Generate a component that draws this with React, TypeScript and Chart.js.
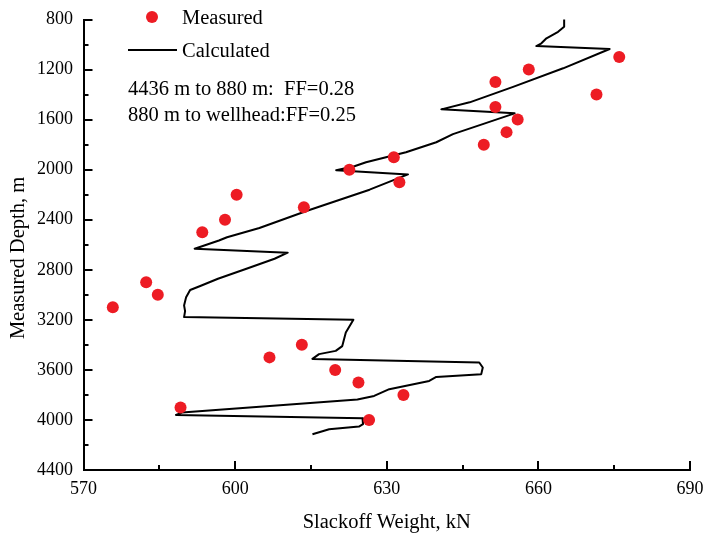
import React, { useEffect, useRef } from "react";
import { Chart, registerables } from "chart.js";

Chart.register(...registerables);

// Measured points
const measuredDepth = [1100, 1200, 1300, 1400, 1500, 1600, 1700, 1800, 1900, 2000, 2100, 2200, 2300, 2400, 2500, 2900, 3000, 3100, 3400, 3500, 3600, 3700, 3800, 3900, 4000];
const measuredWeight = [676.0, 658.1, 651.5, 671.5, 651.5, 655.9, 653.7, 649.2, 631.4, 622.6, 632.5, 600.3, 613.6, 598.0, 593.5, 582.4, 584.7, 575.8, 613.2, 606.8, 619.8, 624.4, 633.3, 589.2, 626.5];

// Calculated curve
const calcDepth = [800, 858, 898, 950, 990, 1012, 1036, 1190, 1338, 1462, 1518, 1550, 1644, 1716, 1781, 1861, 1941, 1973, 2004, 2038, 2160, 2326, 2466, 2540, 2566, 2632, 2663, 2712, 2794, 2872, 2930, 2962, 3020, 3085, 3130, 3178, 3200, 3302, 3410, 3448, 3474, 3512, 3541, 3581, 3634, 3656, 3688, 3754, 3808, 3837, 3941, 3960, 3986, 4034, 4053, 4074, 4114];
const calcWeight = [665.1, 665.1, 663.9, 661.6, 660.6, 659.6, 674.1, 664.9, 655.0, 646.4, 640.8, 655.3, 648.4, 643.1, 639.8, 633.8, 625.9, 623.6, 620.0, 634.2, 626.6, 614.4, 604.8, 598.4, 596.8, 592.0, 610.4, 607.8, 602.1, 596.6, 593.1, 591.1, 590.3, 589.9, 590.1, 589.9, 623.4, 621.9, 621.2, 619.9, 616.6, 615.3, 648.3, 649.0, 648.7, 639.8, 638.4, 630.5, 627.5, 624.2, 589.5, 588.3, 625.2, 625.3, 624.5, 618.6, 615.3];

// Axes
const xMin = 570;
const xMax = 690;
const xStep = 30;
const yMin = 800;
const yMax = 4400;
const yStep = 400;

const xTitle = "Slackoff Weight, kN";
const yTitle = "Measured Depth, m";
const legendLabels = ["Measured", "Calculated"];
const noteLines = ["4436 m to 880 m:  FF=0.28", "880 m to wellhead:FF=0.25"];

const FONT = "'Liberation Serif', 'Times New Roman', serif";
const RED = "#ED1C24";

export default function App() {
  const ref = useRef<HTMLCanvasElement | null>(null);

  useEffect(() => {
    const canvas = ref.current;
    if (!canvas) return;

    const decor = {
      id: "decor",
      afterDraw(chart: any) {
        const ctx = chart.ctx;
        const xs = chart.scales.x;
        const ys = chart.scales.y;
        const area = chart.chartArea;
        ctx.save();
        ctx.strokeStyle = "#000";
        ctx.lineWidth = 2;
        for (let v = xMin; v <= xMax; v += xStep / 2) {
          const px = Math.round(xs.getPixelForValue(v));
          const major = (v - xMin) % xStep === 0;
          const len = major ? 9 : 5;
          ctx.beginPath();
          ctx.moveTo(px, area.bottom);
          ctx.lineTo(px, area.bottom - len);
          ctx.stroke();
        }
        for (let v = yMin; v <= yMax; v += yStep / 2) {
          const py = Math.round(ys.getPixelForValue(v));
          const major = (v - yMin) % yStep === 0;
          const len = major ? 9 : 5;
          ctx.beginPath();
          ctx.moveTo(area.left, py);
          ctx.lineTo(area.left + len, py);
          ctx.stroke();
        }
        ctx.fillStyle = "#000";
        ctx.font = `20.5px ${FONT}`;
        ctx.textAlign = "center";
        ctx.textBaseline = "alphabetic";
        ctx.fillText(xTitle, (area.left + area.right) / 2, 528);
        ctx.save();
        ctx.translate(24, 258);
        ctx.rotate(-Math.PI / 2);
        ctx.fillText(yTitle, 0, 0);
        ctx.restore();
        ctx.textAlign = "left";
        ctx.fillStyle = RED;
        ctx.beginPath();
        ctx.arc(152, 17, 6, 0, Math.PI * 2);
        ctx.fill();
        ctx.fillStyle = "#000";
        ctx.fillText(legendLabels[0], 182, 24);
        ctx.beginPath();
        ctx.moveTo(128, 50);
        ctx.lineTo(177, 50);
        ctx.stroke();
        ctx.fillText(legendLabels[1], 182, 57);
        ctx.fillText(noteLines[0], 128, 95);
        ctx.fillText(noteLines[1], 128, 121);
        ctx.restore();
      },
    };

    const chart = new Chart(canvas, {
      type: "scatter",
      data: {
        datasets: [
          {
            label: legendLabels[0],
            data: measuredDepth.map((d, i) => ({ x: measuredWeight[i], y: d })),
            showLine: false,
            pointRadius: 6,
            pointHoverRadius: 6,
            pointBackgroundColor: RED,
            pointBorderWidth: 0,
            pointBorderColor: RED,
          },
          {
            label: legendLabels[1],
            data: calcDepth.map((d, i) => ({ x: calcWeight[i], y: d })),
            showLine: true,
            pointRadius: 0,
            borderColor: "#000",
            borderWidth: 2,
            borderJoinStyle: "round",
            tension: 0,
            fill: false,
          },
        ],
      },
      options: {
        responsive: false,
        devicePixelRatio: 1,
        animation: false,
        events: [],
        layout: { padding: { left: 0, top: 19.5, right: 14, bottom: 0 } },
        plugins: {
          legend: { display: false },
          tooltip: { enabled: false },
          title: { display: false },
        },
        scales: {
          x: {
            type: "linear",
            position: "bottom",
            min: xMin,
            max: xMax,
            ticks: {
              stepSize: xStep,
              color: "#000",
              font: { family: FONT, size: 18 },
              padding: 8.5,
              maxRotation: 0,
              callback: (v: any) => String(v),
            },
            grid: { display: false, drawTicks: false },
            border: { display: true, color: "#000", width: 2 },
            afterFit: (s: any) => {
              s.height = 65;
              s.paddingLeft = 0;
              s.paddingRight = 0;
            },
          },
          y: {
            type: "linear",
            position: "left",
            reverse: true,
            min: yMin,
            max: yMax,
            ticks: {
              stepSize: yStep,
              color: "#000",
              font: { family: FONT, size: 18 },
              padding: 10.5,
              callback: (v: any) => String(v),
            },
            grid: { display: false, drawTicks: false },
            border: { display: true, color: "#000", width: 2 },
            afterFit: (s: any) => {
              s.width = 83.5;
              s.paddingTop = 0;
              s.paddingBottom = 0;
            },
          },
        },
      },
      plugins: [decor],
    } as any);

    return () => chart.destroy();
  }, []);

  return (
    <div style={{ position: "fixed", left: 0, top: 0, width: 704, height: 535, background: "#fff" }}>
      <canvas ref={ref} width={704} height={535} style={{ display: "block" }} />
    </div>
  );
}
